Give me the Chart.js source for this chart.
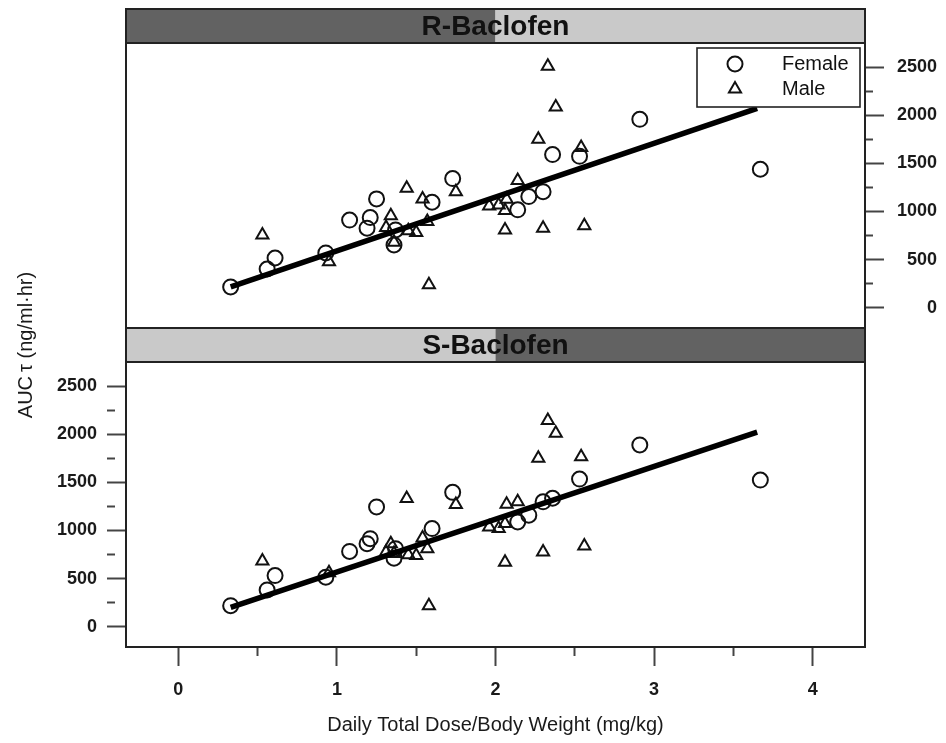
<!DOCTYPE html>
<html>
<head>
<meta charset="utf-8">
<script src="https://cdn.jsdelivr.net/npm/chart.js@4.4.0/dist/chart.umd.min.js"></script>
<style>
  html, body { margin: 0; padding: 0; background: #fff; }
  #wrap { position: relative; width: 946px; height: 743px; }
  #wrap canvas { position: absolute; left: 0; top: 0; }
</style>
</head>
<body>
<div id="wrap">
  <canvas id="topPanel" width="946" height="743"></canvas>
  <canvas id="botPanel" width="946" height="743"></canvas>
</div>
<script>
// values (dose in mg/kg, AUC in ng/ml·hr)
const xFemale = [0.33, 0.56, 0.61, 0.93, 1.08, 1.19, 1.21, 1.25, 1.36, 1.37, 1.60, 1.73, 2.14, 2.21, 2.30, 2.36, 2.53, 2.91, 3.67];
const rFemale = [217, 403, 517, 570, 911, 827, 937, 1131, 653, 809, 1096, 1342, 1017, 1155, 1206, 1591, 1573, 1957, 1439];
const sFemale = [219, 383, 532, 515, 783, 863, 915, 1245, 713, 811, 1020, 1396, 1089, 1159, 1298, 1335, 1534, 1889, 1524];

const xMale = [0.53, 0.95, 1.31, 1.34, 1.36, 1.44, 1.45, 1.50, 1.54, 1.57, 1.58, 1.75, 1.96, 2.02, 2.06, 2.07, 2.06, 2.14, 2.27, 2.30, 2.33, 2.38, 2.54, 2.56];
const rMale = [757, 477, 833, 957, 681, 1242, 799, 781, 1131, 895, 239, 1205, 1058, 1068, 1010, 1128, 809, 1321, 1750, 827, 2509, 2085, 1664, 853];
const sMale = [682, 560, 776, 863, 760, 1333, 748, 741, 922, 811, 219, 1270, 1037, 1020, 1072, 1273, 671, 1298, 1750, 776, 2143, 2011, 1767, 838];

// fitted regression line end points
const fitX = [0.33, 3.65];
const fitR = [218, 2072];
const fitS = [201, 2022];

const xMajor = [0, 1, 2, 3, 4];
const xMinor = [0.5, 1.5, 2.5, 3.5];
const yMajor = [0, 500, 1000, 1500, 2000, 2500];
const yMinor = [250, 750, 1250, 1750, 2250];

const xTitle = 'Daily Total Dose/Body Weight (mg/kg)';
const yTitle = 'AUC\u2009\u03c4 (ng/ml\u00b7hr)';

Chart.defaults.font.family = '"Liberation Sans", Arial, sans-serif';
Chart.defaults.color = '#1a1a1a';

const pairs = (xs, ys) => xs.map((x, i) => ({ x: x, y: ys[i] }));
const tickFont = { size: 18, weight: 'bold' };

// strip on top of the panel + the panel frame
const panelDeco = {
  id: 'panelDeco',
  afterDraw(chart, args, o) {
    const { ctx, chartArea: a } = chart;
    const sh = 34;
    const mid = (a.left + a.right) / 2;
    ctx.save();
    ctx.fillStyle = o.leftColor;
    ctx.fillRect(a.left, a.top - sh, mid - a.left, sh);
    ctx.fillStyle = o.rightColor;
    ctx.fillRect(mid, a.top - sh, a.right - mid, sh);
    ctx.lineWidth = 2;
    ctx.strokeStyle = '#222';
    ctx.strokeRect(a.left, a.top - sh, a.right - a.left, sh);
    ctx.strokeRect(a.left, a.top, a.right - a.left, a.bottom - a.top);
    ctx.font = 'bold 28px "Liberation Sans", Arial, sans-serif';
    ctx.fillStyle = '#111';
    ctx.textAlign = 'center';
    ctx.textBaseline = 'middle';
    ctx.fillText(o.label, mid, a.top - sh / 2 + 1);
    ctx.restore();
  }
};

// boxed key in the top right corner of a panel
const boxLegend = {
  id: 'boxLegend',
  afterDraw(chart, args, o) {
    if (!o.show) return;
    const { ctx, chartArea: a } = chart;
    const x0 = a.right - 168, y0 = a.top + 5, w = 163, h = 59;
    ctx.save();
    ctx.fillStyle = '#fff';
    ctx.fillRect(x0, y0, w, h);
    ctx.lineWidth = 1.6;
    ctx.strokeStyle = '#222';
    ctx.strokeRect(x0, y0, w, h);
    ctx.font = '20px "Liberation Sans", Arial, sans-serif';
    ctx.textBaseline = 'middle';
    chart.data.datasets.filter(d => d.label).forEach((d, i) => {
      const cy = y0 + 16 + i * 25;
      ctx.fillStyle = 'rgba(0,0,0,0)';
      ctx.strokeStyle = '#111';
      ctx.lineWidth = d.pointBorderWidth;
      Chart.helpers.drawPoint(ctx, { pointStyle: d.pointStyle, radius: d.pointRadius, borderWidth: d.pointBorderWidth, rotation: 0 }, x0 + 38, cy);
      ctx.fillStyle = '#111';
      ctx.fillText(d.label, x0 + 85, cy);
    });
    ctx.restore();
  }
};

// y title spans both panels
const sideTitle = {
  id: 'sideTitle',
  afterDraw(chart, args, o) {
    if (!o.text) return;
    const { ctx } = chart;
    ctx.save();
    ctx.translate(26, 345);
    ctx.rotate(-Math.PI / 2);
    ctx.font = '20px "Liberation Sans", Arial, sans-serif';
    ctx.fillStyle = '#1a1a1a';
    ctx.textAlign = 'center';
    ctx.textBaseline = 'middle';
    ctx.fillText(o.text, 0, 0);
    ctx.restore();
  }
};

function yScale(position) {
  return {
    type: 'linear',
    position: position,
    min: -210,
    max: 2750,
    afterFit: s => { s.width = position === 'left' ? 126 : 72; },
    afterBuildTicks: s => { s.ticks = yMajor.concat(yMinor).sort((a, b) => a - b).map(v => ({ value: v })); },
    border: { display: false },
    grid: {
      drawOnChartArea: false,
      tickLength: 19,
      tickWidth: 2,
      tickColor: '#444',
      tickBorderDash: c => (c.tick && yMajor.includes(c.tick.value)) ? [] : [8, 100]
    },
    ticks: {
      autoSkip: false,
      padding: 10,
      crossAlign: position === 'left' ? 'near' : 'far',
      font: tickFont,
      callback: v => yMajor.includes(v) ? String(v) : ''
    }
  };
}

function xScale(show) {
  return {
    type: 'linear',
    min: -0.33,
    max: 4.33,
    display: show,
    afterFit: s => { if (show) s.height = 96; },
    afterBuildTicks: s => { s.ticks = xMajor.concat(xMinor).sort((a, b) => a - b).map(v => ({ value: v })); },
    border: { display: false },
    grid: {
      drawOnChartArea: false,
      tickLength: 19,
      tickWidth: 2,
      tickColor: '#444',
      tickBorderDash: c => (c.tick && xMajor.includes(c.tick.value)) ? [] : [9, 100]
    },
    ticks: {
      autoSkip: false,
      maxRotation: 0,
      padding: 13,
      font: tickFont,
      callback: v => xMajor.includes(v) ? String(v) : ''
    },
    title: {
      display: show,
      text: xTitle,
      font: { size: 20 },
      color: '#1a1a1a',
      padding: { top: 0, bottom: 6 }
    }
  };
}

function makePanel(id, female, male, fit, cfg) {
  return new Chart(document.getElementById(id), {
    type: 'scatter',
    data: {
      datasets: [
        { label: '', data: pairs(fitX, fit), showLine: true, borderColor: '#000', borderWidth: 5.5, pointRadius: 0, pointHoverRadius: 0 },
        { label: 'Female', data: pairs(xFemale, female), pointStyle: 'circle', pointRadius: 7.5, pointHoverRadius: 7.5,
          pointBorderWidth: 2, pointBorderColor: '#111', pointBackgroundColor: 'rgba(0,0,0,0)' },
        { label: 'Male', data: pairs(xMale, male), pointStyle: 'triangle', pointRadius: 7, pointHoverRadius: 7,
          pointBorderWidth: 2, pointBorderColor: '#111', pointBackgroundColor: 'rgba(0,0,0,0)' }
      ]
    },
    options: {
      responsive: false,
      animation: false,
      events: [],
      layout: { padding: cfg.padding },
      scales: { x: xScale(cfg.showX), y: yScale(cfg.yPos) },
      plugins: {
        legend: { display: false },
        tooltip: { enabled: false },
        panelDeco: cfg.strip,
        boxLegend: { show: cfg.legend },
        sideTitle: { text: cfg.sideTitle }
      }
    },
    plugins: [panelDeco, boxLegend, sideTitle]
  });
}

makePanel('topPanel', rFemale, rMale, fitR, {
  padding: { top: 43, right: 9, left: 126, bottom: 415 },
  showX: false,
  yPos: 'right',
  legend: true,
  sideTitle: '',
  strip: { label: 'R-Baclofen', leftColor: '#626262', rightColor: '#c9c9c9' }
});

makePanel('botPanel', sFemale, sMale, fitS, {
  padding: { top: 362, right: 81, left: 0, bottom: 0 },
  showX: true,
  yPos: 'left',
  legend: false,
  sideTitle: yTitle,
  strip: { label: 'S-Baclofen', leftColor: '#c9c9c9', rightColor: '#626262' }
});
</script>
</body>
</html>
